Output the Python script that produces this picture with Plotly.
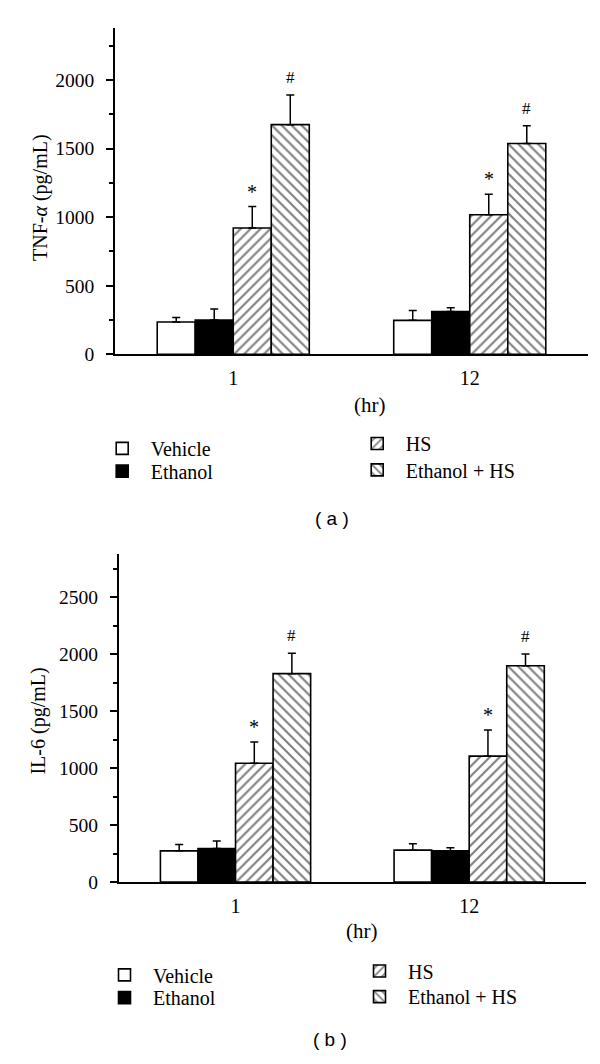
import plotly.graph_objects as go

# ---------------- data ----------------
groups = ["1", "12"]
series_names = ["Vehicle", "Ethanol", "HS", "Ethanol + HS"]

tnf_vehicle = [236, 248]
tnf_ethanol = [250, 312]
tnf_hs = [921, 1017]
tnf_eth_hs = [1674, 1537]
tnf_vehicle_err = [33, 72]
tnf_ethanol_err = [80, 27]
tnf_hs_err = [156, 150]
tnf_eth_hs_err = [216, 130]

il6_vehicle = [275, 281]
il6_ethanol = [296, 275]
il6_hs = [1043, 1106]
il6_eth_hs = [1830, 1899]
il6_vehicle_err = [56, 56]
il6_ethanol_err = [65, 27]
il6_hs_err = [188, 229]
il6_eth_hs_err = [179, 104]

hs_mark = "*"
eth_hs_mark = "#"

# ---------------- figure ----------------
W, H = 600, 1064
SERIF = "Liberation Serif, Times New Roman, serif"
SANS = "Liberation Sans, Arial, sans-serif"
BARGAP = 0.357
xpos = list(range(len(groups)))

styles = [
    dict(color="white", pattern=None),
    dict(color="black", pattern=None),
    dict(color="white", pattern=dict(shape="/", fgcolor="black", bgcolor="white", size=7, solidity=0.3)),
    dict(color="white", pattern=dict(shape="\\", fgcolor="black", bgcolor="white", size=7, solidity=0.3)),
]

fig = go.Figure()

# one legend per entry so each can be placed like the reference
legend_ids_a = ["legend", "legend2", "legend3", "legend4"]
legend_ids_b = ["legend5", "legend6", "legend7", "legend8"]


def add_panel(vals, errs, xa, ya, legends):
    for i, (name, v, e, st) in enumerate(zip(series_names, vals, errs, styles)):
        marker = dict(color=st["color"], line=dict(color="black", width=1.6))
        if st["pattern"]:
            marker["pattern"] = st["pattern"]
        fig.add_trace(go.Bar(
            x=xpos, y=v, name=name, marker=marker,
            error_y=dict(type="data", symmetric=False, array=e,
                         arrayminus=[0] * len(e), color="black",
                         thickness=1.5, width=4),
            xaxis=xa, yaxis=ya, legend=legends[i],
            showlegend=True,
        ))


add_panel([tnf_vehicle, tnf_ethanol, tnf_hs, tnf_eth_hs],
          [tnf_vehicle_err, tnf_ethanol_err, tnf_hs_err, tnf_eth_hs_err],
          "x", "y", legend_ids_a)
add_panel([il6_vehicle, il6_ethanol, il6_hs, il6_eth_hs],
          [il6_vehicle_err, il6_ethanol_err, il6_hs_err, il6_eth_hs_err],
          "x2", "y2", legend_ids_b)

# significance marks
bw = (1 - BARGAP) / 4
offsets = [(-1.5 + k) * bw for k in range(4)]
annotations = []
for xa, ya, hs, hse, eh, ehe in [
    ("x", "y", tnf_hs, tnf_hs_err, tnf_eth_hs, tnf_eth_hs_err),
    ("x2", "y2", il6_hs, il6_hs_err, il6_eth_hs, il6_eth_hs_err),
]:
    for g in xpos:
        annotations.append(dict(x=g + offsets[2], y=hs[g] + hse[g], xref=xa, yref=ya,
                                text=hs_mark, showarrow=False, yanchor="bottom", yshift=2,
                                font=dict(family=SERIF, size=20, color="black")))
        annotations.append(dict(x=g + offsets[3], y=eh[g] + ehe[g], xref=xa, yref=ya,
                                text=eth_hs_mark, showarrow=False, yanchor="bottom", yshift=6,
                                font=dict(family=SERIF, size=17, color="black")))


def py(px):
    return 1 - px / H


def pxx(px):
    return px / W


# axis titles & panel labels
texts = [
    (32, 192, "TNF-<i>α</i> (pg/mL)", -90, SERIF, 20),
    (31, 721, "IL-6 (pg/mL)", -90, SERIF, 20),
    (361, 401, "(hr)", 0, SERIF, 21),
    (353, 933, "(hr)", 0, SERIF, 21),
    (324, 516, "( a )", 0, SANS, 19),
    (322, 1042, "( b )", 0, SANS, 19),
]
for x, y, t, ang, fam, sz in texts:
    annotations.append(dict(x=pxx(x), y=py(y), xref="paper", yref="paper", text=t,
                            showarrow=False, textangle=ang, xanchor="center", yanchor="middle",
                            font=dict(family=fam, size=sz, color="black")))

xaxis_common = dict(range=[-0.5, len(groups) - 0.5], tickvals=xpos, ticktext=groups,
                    showline=True, linecolor="black", linewidth=1.6, ticks="",
                    showgrid=False, zeroline=False, ticklabelstandoff=5,
                    tickfont=dict(family=SERIF, size=20, color="black"), fixedrange=True)
yaxis_common = dict(showline=True, linecolor="black", linewidth=1.6, ticks="outside",
                    ticklen=7, tickwidth=1.5, tickcolor="black", dtick=500, tick0=0,
                    showgrid=False, zeroline=False, ticklabelstandoff=8,
                    minor=dict(dtick=250, ticks="outside", ticklen=4, tickwidth=1.5,
                               tickcolor="black", showgrid=False),
                    tickfont=dict(family=SERIF, size=19.5, color="black"))

legend_common = dict(orientation="v", bgcolor="rgba(0,0,0,0)", borderwidth=0,
                     font=dict(family=SERIF, size=20, color="black"),
                     itemwidth=47, tracegroupgap=0, xanchor="left", yanchor="middle",
                     itemclick=False, itemdoubleclick=False)

# legend text start x / centre y (reference pixels) for each entry
leg_pos_a = [(150.7, 445), (150.7, 468), (405.7, 440), (405.7, 466.7)]
leg_pos_b = [(153, 977), (153, 1000), (408, 973), (408, 999)]
TEXT_OFFSET = 65  # distance from legend left edge to text start

legend_layout = {}
for lid, (tx, ty) in zip(legend_ids_a + legend_ids_b, leg_pos_a + leg_pos_b):
    legend_layout[lid] = dict(x=pxx(tx - TEXT_OFFSET), y=py(ty), **legend_common)

fig.update_layout(
    width=W, height=H, margin=dict(l=0, r=0, t=0, b=0),
    paper_bgcolor="white", plot_bgcolor="white",
    barmode="group", bargap=BARGAP, bargroupgap=0,
    xaxis=dict(domain=[pxx(107), pxx(580)], anchor="y", **xaxis_common),
    yaxis=dict(domain=[py(350), py(20)], anchor="x", range=[0, 2380], **yaxis_common),
    xaxis2=dict(domain=[pxx(110.7), pxx(578)], anchor="y2", **xaxis_common),
    yaxis2=dict(domain=[py(883.3), py(551.7)], anchor="x2", range=[0, 2880], **yaxis_common),
    annotations=annotations,
    showlegend=True,
    **legend_layout,
)

fig.write_html("out.html")
